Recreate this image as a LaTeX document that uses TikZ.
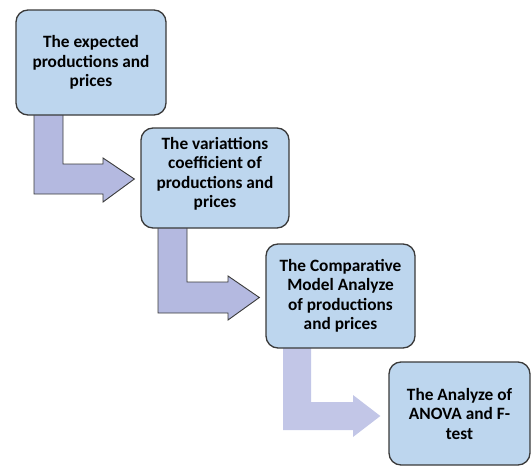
\documentclass[tikz,border=0pt]{standalone}
\usepackage{fontspec}
\setmainfont{Carlito}
\usetikzlibrary{calc,backgrounds}
\definecolor{boxfill}{HTML}{BDD6EE}
\definecolor{arrowfill}{HTML}{B4B9E0}
\definecolor{arrowlight}{HTML}{C2C6E7}
\definecolor{edgecol}{HTML}{3A3A3A}
\tikzset{
  stepbox/.style={draw=edgecol, line width=1.3pt, fill=boxfill, rounded corners=12pt,
    align=center, font=\bfseries\fontsize{17.3}{19.5}\selectfont, inner sep=0pt},
  bentarrow/.style={draw=edgecol, line width=0.9pt, fill=arrowfill, line join=miter},
  bentarrowlight/.style={fill=arrowlight},
}
\begin{document}
\begin{tikzpicture}[x=1pt,y=-1pt]
\useasboundingbox (0,0) rectangle (531,466);
\node[stepbox, minimum width=150pt, minimum height=105pt] (b1) at (91,62.5)
  {The expected\\productions and\\prices};
\node[stepbox, minimum width=148pt, minimum height=100pt] (b2) at (215,178)
  {The variattions\\coefficient of\\productions and\\prices\\[-8pt]};
\node[stepbox, minimum width=149pt, minimum height=104pt] (b3) at (340.5,296)
  {The Comparative\\Model Analyze\\of productions\\and prices};
\node[stepbox, minimum width=141pt, minimum height=103pt] (b4) at (459.5,413.5)
  {The Analyze of\\ANOVA and F-\\test};
\begin{scope}[on background layer]
  \draw[bentarrow] (34,108) -- (34,194) -- (103,194) -- (103,202)
    -- ($(b2.west)+(-6,1)$) -- (103,158) -- (103,164) -- (63,164) -- (63,108) -- cycle;
  \draw[bentarrow] (158,222) -- (158,313) -- (228,313) -- (228,320)
    -- ($(b3.west)+(-6,1.5)$) -- (228,276) -- (228,282) -- (187,282) -- (187,222) -- cycle;
  \path[bentarrowlight] (283,342) -- (283,430) -- (353,430) -- (353,437)
    -- ($(b4.west)+(-8,2.5)$) -- (353,395) -- (353,402) -- (311,402) -- (311,342) -- cycle;
\end{scope}
\end{tikzpicture}
\end{document}
